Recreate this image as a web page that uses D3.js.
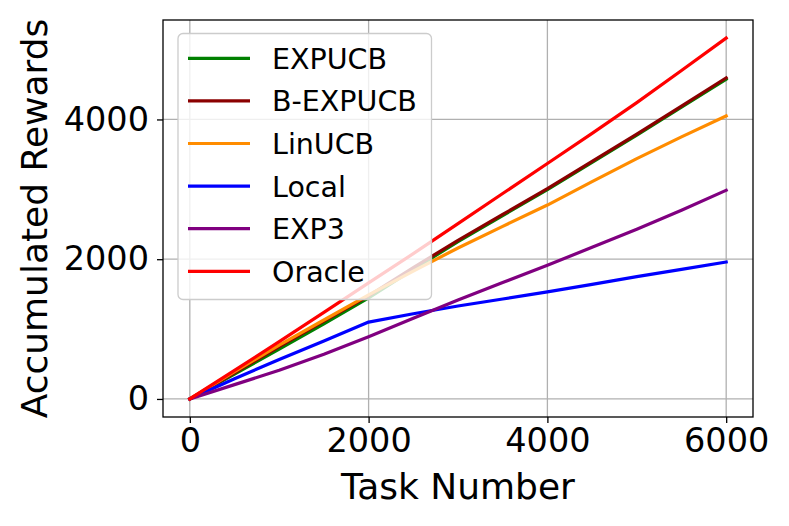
<!DOCTYPE html>
<html>
<head>
<meta charset="utf-8">
<script src="https://cdn.jsdelivr.net/npm/d3@7"></script>
<style>
  html, body { margin: 0; padding: 0; background: #fff; }
  svg { display: block; }
  text { font-family: "DejaVu Sans", sans-serif; fill: #000; }
</style>
</head>
<body>
<svg id="chart" width="789" height="526"></svg>
<script>
// ---- data ----
const taskNumbers = [0, 500, 1000, 1500, 2000, 2500, 3000, 3500, 4000, 4500, 5000, 5500, 6000];
const seriesNames = ["EXPUCB", "B-EXPUCB", "LinUCB", "Local", "EXP3", "Oracle"];
const seriesColors = ["#008000", "#8b0000", "#ff8c00", "#0000ff", "#800080", "#ff0000"];
const expucb  = [0, 355, 715, 1075, 1445, 1855, 2250, 2625, 2995, 3385, 3775, 4175, 4575];
const bExpucb = [0, 375, 750, 1115, 1475, 1880, 2270, 2640, 3010, 3400, 3790, 4190, 4595];
const linucb  = [0, 390, 770, 1130, 1490, 1830, 2160, 2470, 2775, 3110, 3440, 3750, 4050];
const local   = [0, 290, 565, 830, 1100, 1220, 1330, 1430, 1533, 1640, 1750, 1855, 1960];
const exp3    = [0, 205, 410, 640, 890, 1155, 1415, 1665, 1914, 2170, 2430, 2700, 2986];
const oracle  = [0, 410, 820, 1240, 1660, 2080, 2510, 2940, 3370, 3800, 4240, 4700, 5165];
const seriesValues = [expucb, bExpucb, linucb, local, exp3, oracle];
const xTicks = [0, 2000, 4000, 6000];
const yTicks = [0, 2000, 4000];
const xLabel = "Task Number";
const yLabel = "Accumulated Rewards";

// ---- layout ----
const svg = d3.select("#chart");
const L = 163, T = 20, R = 753, B = 417;
const allVals = seriesValues.flat();
const ymin = d3.min(allVals), ymax = d3.max(allVals);
const ypad = (ymax - ymin) * 0.05;
const xpad = (d3.max(taskNumbers) - d3.min(taskNumbers)) * 0.05;

const x = d3.scaleLinear().domain([d3.min(taskNumbers) - xpad, d3.max(taskNumbers) + xpad]).range([L, R]);
const y = d3.scaleLinear().domain([ymin - ypad, ymax + ypad]).range([B, T]);

// grid
const grid = svg.append("g");
grid.selectAll(".gx").data(xTicks).enter().append("line")
  .attr("x1", d => x(d)).attr("x2", d => x(d)).attr("y1", T).attr("y2", B)
  .attr("stroke", "#b0b0b0").attr("stroke-width", 1.3);
grid.selectAll(".gy").data(yTicks).enter().append("line")
  .attr("x1", L).attr("x2", R).attr("y1", d => y(d)).attr("y2", d => y(d))
  .attr("stroke", "#b0b0b0").attr("stroke-width", 1.3);

// lines
const line = d3.line().x((d, i) => x(taskNumbers[i])).y(d => y(d));
const clipId = "plotclip";
svg.append("clipPath").attr("id", clipId).append("rect")
  .attr("x", L).attr("y", T).attr("width", R - L).attr("height", B - T);
const lines = svg.append("g").attr("clip-path", `url(#${clipId})`);
seriesValues.forEach((vals, i) => {
  lines.append("path").datum(vals)
    .attr("d", line)
    .attr("fill", "none")
    .attr("stroke", seriesColors[i])
    .attr("stroke-width", 3.2)
    .attr("stroke-linejoin", "round")
    .attr("stroke-linecap", "square");
});

// axes
const xAxis = d3.axisBottom(x).tickValues(xTicks).tickSize(6).tickPadding(5).tickFormat(d3.format("d"));
const yAxis = d3.axisLeft(y).tickValues(yTicks).tickSize(6).tickPadding(8).tickFormat(d3.format("d"));
const gx = svg.append("g").attr("transform", `translate(0,${B})`).call(xAxis);
const gy = svg.append("g").attr("transform", `translate(${L},0)`).call(yAxis);
[gx, gy].forEach(g => {
  g.select(".domain").remove();
  g.selectAll(".tick line").attr("stroke", "#000").attr("stroke-width", 1.3);
  g.selectAll(".tick text").attr("font-size", 33.5).attr("font-family", "DejaVu Sans").attr("fill", "#000");
});

// frame
svg.append("rect").attr("x", L).attr("y", T).attr("width", R - L).attr("height", B - T)
  .attr("fill", "none").attr("stroke", "#000").attr("stroke-width", 1.3);

// axis labels
svg.append("text").attr("x", (L + R) / 2).attr("y", 499)
  .attr("text-anchor", "middle").attr("font-size", 36).text(xLabel);
svg.append("text").attr("transform", `translate(47,${(T + B) / 2}) rotate(-90)`)
  .attr("text-anchor", "middle").attr("font-size", 36).text(yLabel);

// legend
const leg = svg.append("g");
leg.append("rect").attr("x", 178).attr("y", 33.5).attr("width", 253.5).attr("height", 266)
  .attr("rx", 5).attr("ry", 5)
  .attr("fill", "rgba(255,255,255,0.8)").attr("stroke", "#cccccc").attr("stroke-width", 1.3);
seriesNames.forEach((name, i) => {
  const cy = 58.3 + i * 42.6;
  leg.append("line").attr("x1", 188).attr("x2", 250).attr("y1", cy).attr("y2", cy)
    .attr("stroke", seriesColors[i]).attr("stroke-width", 3.2);
  leg.append("text").attr("x", 272).attr("y", cy + 10.5).attr("font-size", 28.5).text(name);
});
</script>
</body>
</html>
